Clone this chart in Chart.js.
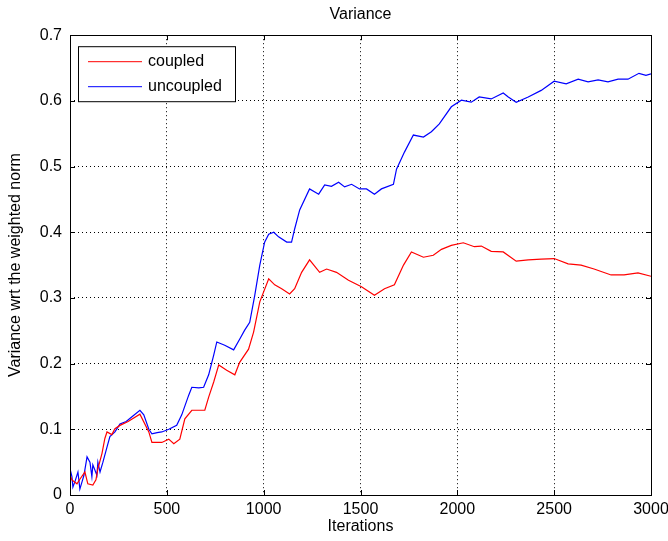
<!DOCTYPE html>
<html>
<head>
<meta charset="utf-8">
<script src="https://cdn.jsdelivr.net/npm/chart.js@4/dist/chart.umd.min.js"></script>
<style>
  html, body { margin: 0; padding: 0; background: #fff; }
  #wrap { width: 668px; height: 541px; }
</style>
</head>
<body>
<div id="wrap"><canvas id="varChart"></canvas></div>
<script>
// iterations (x) and variance (y)
const coupledX = [0, 10, 36, 51, 77, 92, 118, 134, 144, 165,
    180, 191, 216, 232, 258, 300, 361, 407, 423, 474,
    510, 536, 567, 593, 629, 696, 716, 742, 768, 809,
    851, 876, 922, 948, 980, 1026, 1057, 1093, 1134, 1160,
    1196, 1237, 1289, 1325, 1376, 1438, 1505, 1572, 1624, 1675,
    1722, 1763, 1825, 1876, 1918, 1969, 2031, 2088, 2124, 2175,
    2237, 2304, 2366, 2433, 2500, 2572, 2639, 2706, 2794, 2861,
    2933, 3000];
const coupledY = [0.030, 0.023, 0.017, 0.024, 0.035, 0.017, 0.015, 0.023, 0.040, 0.063,
    0.086, 0.096, 0.092, 0.101, 0.106, 0.112, 0.123, 0.096, 0.080, 0.080,
    0.085, 0.078, 0.085, 0.116, 0.129, 0.129, 0.149, 0.172, 0.198, 0.190,
    0.183, 0.202, 0.222, 0.248, 0.294, 0.329, 0.320, 0.314, 0.306, 0.314,
    0.339, 0.358, 0.339, 0.344, 0.339, 0.327, 0.317, 0.304, 0.314, 0.320,
    0.350, 0.370, 0.362, 0.365, 0.374, 0.380, 0.384, 0.378, 0.379, 0.371,
    0.370, 0.356, 0.358, 0.359, 0.360, 0.352, 0.350, 0.344, 0.335, 0.335,
    0.338, 0.333];

const uncoupledX = [0, 10, 15, 25, 41, 51, 62, 72, 88, 103,
    113, 118, 139, 144, 155, 170, 191, 206, 232, 258,
    290, 320, 361, 381, 407, 423, 450, 474, 510, 551,
    577, 613, 629, 665, 690, 716, 742, 758, 799, 845,
    876, 902, 928, 954, 980, 1005, 1026, 1052, 1077, 1119,
    1144, 1160, 1186, 1237, 1284, 1315, 1350, 1387, 1418, 1454,
    1495, 1531, 1572, 1608, 1670, 1686, 1727, 1773, 1825, 1866,
    1907, 1969, 2021, 2072, 2113, 2175, 2237, 2263, 2304, 2366,
    2433, 2500, 2562, 2624, 2675, 2727, 2778, 2830, 2881, 2938,
    2974, 3000];
const uncoupledY = [0.040, 0.028, 0.012, 0.020, 0.035, 0.009, 0.020, 0.030, 0.058, 0.050,
    0.028, 0.046, 0.030, 0.050, 0.035, 0.050, 0.073, 0.089, 0.096, 0.108,
    0.112, 0.119, 0.129, 0.122, 0.100, 0.093, 0.095, 0.096, 0.100, 0.106,
    0.122, 0.152, 0.164, 0.163, 0.164, 0.183, 0.213, 0.233, 0.228, 0.221,
    0.237, 0.251, 0.263, 0.304, 0.350, 0.385, 0.397, 0.400, 0.393, 0.385,
    0.385, 0.405, 0.434, 0.466, 0.458, 0.472, 0.470, 0.476, 0.469, 0.473,
    0.466, 0.466, 0.458, 0.466, 0.473, 0.496, 0.522, 0.548, 0.545, 0.553,
    0.565, 0.591, 0.601, 0.598, 0.606, 0.603, 0.612, 0.606, 0.598, 0.606,
    0.616, 0.630, 0.626, 0.633, 0.629, 0.632, 0.629, 0.633, 0.633, 0.642,
    0.639, 0.641];

const xTicks = [0, 500, 1000, 1500, 2000, 2500, 3000];
const yTicks = [0, 0.1, 0.2, 0.3, 0.4, 0.5, 0.6, 0.7];

const FONT = 'Liberation Sans, Arial, sans-serif';

function toPoints(xs, ys) {
    return xs.map((x, i) => ({ x: x, y: ys[i] }));
}

// matlab style box with inward ticks + legend in the top left corner
const matlabBox = {
    id: 'matlabBox',
    afterDatasetsDraw(chart) {
        const ctx = chart.ctx;
        const a = chart.chartArea;
        const xs = chart.scales.x, ys = chart.scales.y;
        const tl = 5;
        ctx.save();
        ctx.strokeStyle = '#000';
        ctx.lineWidth = 1;
        ctx.beginPath();
        xTicks.forEach(v => {
            const px = Math.round(xs.getPixelForValue(v)) + 0.5;
            ctx.moveTo(px, a.bottom); ctx.lineTo(px, a.bottom - tl);
            ctx.moveTo(px, a.top); ctx.lineTo(px, a.top + tl);
        });
        yTicks.forEach(v => {
            const py = Math.round(ys.getPixelForValue(v)) + 0.5;
            ctx.moveTo(a.left, py); ctx.lineTo(a.left + tl, py);
            ctx.moveTo(a.right, py); ctx.lineTo(a.right - tl, py);
        });
        ctx.stroke();
        ctx.strokeRect(Math.round(a.left) + 0.5, Math.round(a.top) + 0.5,
            Math.round(a.right - a.left), Math.round(a.bottom - a.top));

        // legend
        const bx = a.left + 8, by = a.top + 11, bw = 157, bh = 55;
        ctx.fillStyle = '#fff';
        ctx.fillRect(bx, by, bw, bh);
        ctx.strokeRect(bx + 0.5, by + 0.5, bw, bh);
        ctx.font = '16px ' + FONT;
        ctx.textBaseline = 'middle';
        chart.data.datasets.forEach((ds, i) => {
            const ly = by + 15 + i * 25 + 0.5;
            ctx.strokeStyle = ds.borderColor;
            ctx.beginPath();
            ctx.moveTo(bx + 10, ly); ctx.lineTo(bx + 64, ly);
            ctx.stroke();
            ctx.fillStyle = '#000';
            ctx.fillText(ds.label, bx + 70, ly);
        });
        ctx.restore();
    }
};

const ctx = document.getElementById('varChart').getContext('2d');
new Chart(ctx, {
    type: 'line',
    data: {
        datasets: [{
            label: 'coupled',
            data: toPoints(coupledX, coupledY),
            borderColor: '#ff0000',
            borderWidth: 1.2,
            pointRadius: 0,
            tension: 0
        }, {
            label: 'uncoupled',
            data: toPoints(uncoupledX, uncoupledY),
            borderColor: '#0000ff',
            borderWidth: 1.2,
            pointRadius: 0,
            tension: 0
        }]
    },
    options: {
        responsive: true,
        maintainAspectRatio: false,
        animation: false,
        layout: { padding: { top: 0, right: 0, left: 0, bottom: 0 } },
        scales: {
            x: {
                type: 'linear',
                min: 0,
                max: 3000,
                afterBuildTicks: s => { s.ticks = xTicks.map(v => ({ value: v })); },
                afterFit: s => { s.height = 46; s.paddingRight = 17; },
                grid: { color: '#000', lineWidth: 1, drawTicks: false },
                border: { display: false, dash: [1, 3] },
                ticks: { color: '#000', font: { family: FONT, size: 16 }, padding: 5, maxRotation: 0,
                    callback: v => String(v) },
                title: { display: true, text: 'Iterations', color: '#000',
                    font: { family: FONT, size: 16 }, padding: { top: 0, bottom: 5 } }
            },
            y: {
                min: 0,
                max: 0.7,
                afterBuildTicks: s => { s.ticks = yTicks.map(v => ({ value: v })); },
                afterFit: s => { s.width = 70; },
                grid: { color: '#000', lineWidth: 1, drawTicks: false },
                border: { display: false, dash: [1, 3] },
                ticks: { color: '#000', font: { family: FONT, size: 16 }, padding: 8,
                    callback: v => String(+v.toFixed(1)) },
                title: { display: true, text: 'Variance wrt the weighted norm', color: '#000',
                    font: { family: FONT, size: 16 }, padding: { top: 6, bottom: 0 } }
            }
        },
        plugins: {
            legend: { display: false },
            tooltip: { enabled: false },
            title: {
                display: true,
                fullSize: false,
                text: 'Variance',
                color: '#000',
                font: { family: FONT, size: 16, weight: 'normal' },
                padding: { top: 5, bottom: 11 }
            }
        }
    },
    plugins: [matlabBox]
});
</script>
</body>
</html>
